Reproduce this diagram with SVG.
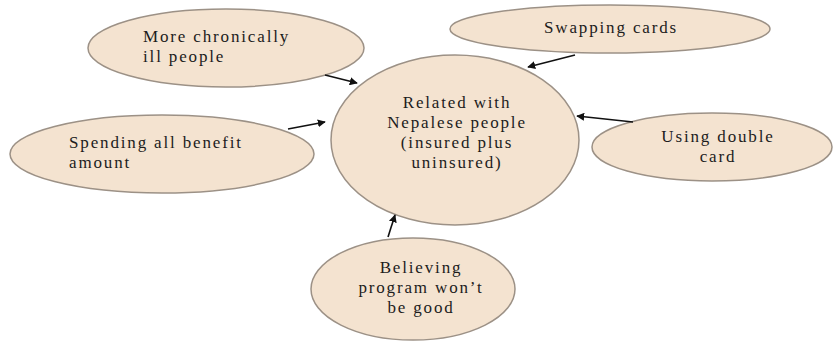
<svg xmlns="http://www.w3.org/2000/svg" width="834" height="343" viewBox="0 0 834 343">
<style>
.n{fill:#f4e3d0;stroke:#9c9186;stroke-width:1.5}
.t{font-family:"Liberation Serif","Times New Roman",serif;font-size:17px;letter-spacing:1.85px;fill:#1c1c1c}
.c line{stroke:#111;stroke-width:1.6;marker-end:url(#ah)}
</style>
<defs>
<marker id="ah" viewBox="0 0 10 10" refX="9" refY="5" markerWidth="8" markerHeight="8" markerUnits="userSpaceOnUse" orient="auto">
<path d="M0,0 L10,5 L0,10 z" fill="#111"/>
</marker>
</defs>
<rect width="834" height="343" fill="#fff"/>
<g id="n-chronic">
<ellipse class="n" cx="226" cy="48" rx="138" ry="39"/>
<text class="t" x="143" y="42">More chronically</text>
<text class="t" x="143" y="62">ill people</text>
</g>
<g id="n-swap">
<ellipse class="n" cx="610" cy="29" rx="160" ry="24"/>
<text class="t" x="611" y="33" text-anchor="middle">Swapping cards</text>
</g>
<g id="n-spend">
<ellipse class="n" cx="162" cy="154" rx="152" ry="39"/>
<text class="t" x="69" y="148">Spending all benefit</text>
<text class="t" x="69" y="168">amount</text>
</g>
<g id="n-double">
<ellipse class="n" cx="712" cy="147" rx="120" ry="34"/>
<text class="t" x="718" y="142" text-anchor="middle">Using double</text>
<text class="t" x="718" y="162" text-anchor="middle">card</text>
</g>
<g id="n-center">
<ellipse class="n" cx="455" cy="140" rx="124" ry="85"/>
<text class="t" x="457" y="108" text-anchor="middle">Related with</text>
<text class="t" x="457" y="128" text-anchor="middle">Nepalese people</text>
<text class="t" x="457" y="148" text-anchor="middle">(insured plus</text>
<text class="t" x="457" y="168" text-anchor="middle">uninsured)</text>
</g>
<g id="n-believe">
<ellipse class="n" cx="413" cy="289" rx="102" ry="51"/>
<text class="t" x="421" y="273" text-anchor="middle">Believing</text>
<text class="t" x="421" y="293" text-anchor="middle">program won’t</text>
<text class="t" x="421" y="313" text-anchor="middle">be good</text>
</g>
<g id="connectors" class="c">
<line x1="325" y1="75" x2="357" y2="83"/>
<line x1="575" y1="55" x2="528" y2="67"/>
<line x1="288" y1="129" x2="325" y2="122"/>
<line x1="633" y1="122" x2="577" y2="116"/>
<line x1="388" y1="237" x2="395" y2="215"/>
</g>
</svg>
